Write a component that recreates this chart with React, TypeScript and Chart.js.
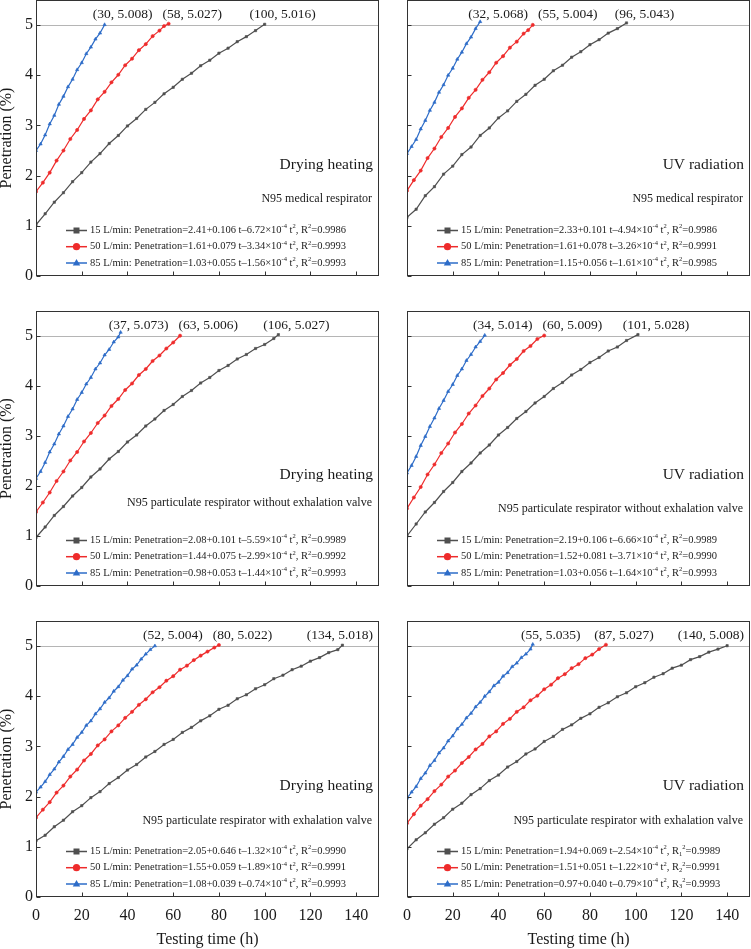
import React, { useEffect, useRef } from "react";
import { Chart, registerables } from "chart.js";

Chart.register(...registerables);

const SERIF = '"Liberation Serif", "Times New Roman", Times, serif';
const TXT = "#1a1a1a";
const C_GRAY = "#4f4f4f";
const C_RED = "#ee2b2b";
const C_BLUE = "#2d6cc8";

const X_TICKS = [0, 20, 40, 60, 80, 100, 120, 140];
const Y_TICKS = [0, 1, 2, 3, 4, 5];
const X_MAX = 150;
const Y_MAX = 5.5;
const LIMIT = 5;
const FLOWS = ["15 L/min", "50 L/min", "85 L/min"];

// ---------- Panel 1: Drying heating, N95 medical respirator ----------
const P1_BLUE_T = [0, 2, 4, 6, 8, 10, 12, 14, 16, 18, 20, 22, 24, 26, 28, 30];
const P1_BLUE_V = [2.50, 2.63, 2.81, 3.03, 3.20, 3.42, 3.58, 3.77, 3.92, 4.11, 4.25, 4.43, 4.56, 4.72, 4.84, 5.008];
const P1_RED_T = [0, 3, 6, 9, 12, 15, 18, 21, 24, 27, 30, 33, 36, 39, 42, 45, 48, 51, 54, 56, 58];
const P1_RED_V = [1.68, 1.86, 2.06, 2.30, 2.50, 2.73, 2.91, 3.13, 3.30, 3.52, 3.67, 3.86, 4.01, 4.20, 4.33, 4.50, 4.62, 4.78, 4.89, 4.98, 5.027];
const P1_GRAY_T = [0, 4, 8, 12, 16, 20, 24, 28, 32, 36, 40, 44, 48, 52, 56, 60, 64, 68, 72, 76, 80, 84, 88, 92, 96, 100];
const P1_GRAY_V = [1.02, 1.24, 1.47, 1.66, 1.88, 2.06, 2.27, 2.44, 2.64, 2.80, 2.99, 3.14, 3.32, 3.46, 3.63, 3.76, 3.92, 4.04, 4.19, 4.30, 4.44, 4.54, 4.67, 4.77, 4.89, 5.016];
const P1_EQ = [["2.41", "0.106", "6.72", "0.9986"], ["1.61", "0.079", "3.34", "0.9993"], ["1.03", "0.055", "1.56", "0.9993"]];

// ---------- Panel 2: UV radiation, N95 medical respirator ----------
const P2_BLUE_T = [0, 2, 4, 6, 8, 10, 12, 14, 16, 18, 20, 22, 24, 26, 28, 30, 32];
const P2_BLUE_V = [2.44, 2.58, 2.72, 2.93, 3.10, 3.30, 3.46, 3.66, 3.81, 4.00, 4.14, 4.32, 4.46, 4.63, 4.76, 4.93, 5.068];
const P2_RED_T = [0, 3, 6, 9, 12, 15, 18, 21, 24, 27, 30, 33, 36, 39, 42, 45, 48, 51, 53, 55];
const P2_RED_V = [1.70, 1.91, 2.10, 2.35, 2.54, 2.77, 2.95, 3.17, 3.34, 3.55, 3.71, 3.91, 4.06, 4.25, 4.38, 4.55, 4.67, 4.83, 4.90, 5.004];
const P2_GRAY_T = [0, 4, 8, 12, 16, 20, 24, 28, 32, 36, 40, 44, 48, 52, 56, 60, 64, 68, 72, 76, 80, 84, 88, 92, 96];
const P2_GRAY_V = [1.17, 1.33, 1.60, 1.78, 2.03, 2.19, 2.42, 2.57, 2.80, 2.95, 3.15, 3.29, 3.48, 3.62, 3.80, 3.92, 4.09, 4.20, 4.36, 4.47, 4.61, 4.71, 4.84, 4.93, 5.043];
const P2_EQ = [["2.33", "0.101", "4.94", "0.9986"], ["1.61", "0.078", "3.26", "0.9991"], ["1.15", "0.056", "1.61", "0.9985"]];

// ---------- Panel 3: Drying heating, without exhalation valve ----------
const P3_BLUE_T = [0, 2, 4, 6, 8, 10, 12, 14, 16, 18, 20, 22, 24, 26, 28, 30, 32, 34, 36, 37];
const P3_BLUE_V = [2.15, 2.29, 2.47, 2.68, 2.84, 3.04, 3.20, 3.39, 3.54, 3.73, 3.87, 4.04, 4.17, 4.34, 4.46, 4.62, 4.73, 4.88, 4.98, 5.073];
const P3_RED_T = [0, 3, 6, 9, 12, 15, 18, 21, 24, 27, 30, 33, 36, 39, 42, 45, 48, 51, 54, 57, 60, 63];
const P3_RED_V = [1.48, 1.67, 1.87, 2.10, 2.29, 2.51, 2.68, 2.89, 3.06, 3.26, 3.41, 3.60, 3.74, 3.92, 4.05, 4.22, 4.34, 4.50, 4.61, 4.75, 4.87, 5.006];
const P3_GRAY_T = [0, 4, 8, 12, 16, 20, 24, 28, 32, 36, 40, 44, 48, 52, 56, 60, 64, 68, 72, 76, 80, 84, 88, 92, 96, 100, 104, 106];
const P3_GRAY_V = [0.97, 1.18, 1.41, 1.59, 1.80, 1.97, 2.18, 2.34, 2.54, 2.69, 2.88, 3.02, 3.20, 3.34, 3.51, 3.63, 3.79, 3.91, 4.06, 4.17, 4.31, 4.41, 4.54, 4.63, 4.75, 4.83, 4.95, 5.027];
const P3_EQ = [["2.08", "0.101", "5.59", "0.9989"], ["1.44", "0.075", "2.99", "0.9992"], ["0.98", "0.053", "1.44", "0.9993"]];

// ---------- Panel 4: UV radiation, without exhalation valve ----------
const P4_BLUE_T = [0, 2, 4, 6, 8, 10, 12, 14, 16, 18, 20, 22, 24, 26, 28, 30, 32, 34];
const P4_BLUE_V = [2.26, 2.41, 2.59, 2.81, 2.99, 3.19, 3.36, 3.55, 3.71, 3.89, 4.03, 4.21, 4.34, 4.51, 4.63, 4.78, 4.89, 5.014];
const P4_RED_T = [0, 3, 6, 9, 12, 15, 18, 21, 24, 27, 30, 33, 36, 39, 42, 45, 48, 51, 54, 57, 60];
const P4_RED_V = [1.55, 1.77, 1.98, 2.23, 2.43, 2.66, 2.85, 3.07, 3.24, 3.45, 3.61, 3.80, 3.95, 4.13, 4.26, 4.42, 4.54, 4.70, 4.80, 4.94, 5.009];
const P4_GRAY_T = [0, 4, 8, 12, 16, 20, 24, 28, 32, 36, 40, 44, 48, 52, 56, 60, 64, 68, 72, 76, 80, 84, 88, 92, 96, 101];
const P4_GRAY_V = [1.00, 1.24, 1.48, 1.67, 1.89, 2.07, 2.29, 2.46, 2.66, 2.82, 3.02, 3.17, 3.35, 3.49, 3.66, 3.79, 3.95, 4.07, 4.22, 4.33, 4.47, 4.57, 4.70, 4.78, 4.91, 5.028];
const P4_EQ = [["2.19", "0.106", "6.66", "0.9989"], ["1.52", "0.081", "3.71", "0.9990"], ["1.03", "0.056", "1.64", "0.9993"]];

// ---------- Panel 5: Drying heating, with exhalation valve ----------
const P5_BLUE_T = [0, 2, 4, 6, 8, 10, 12, 14, 16, 18, 20, 22, 24, 26, 28, 30, 32, 34, 36, 38, 40, 42, 44, 46, 48, 50, 52];
const P5_BLUE_V = [2.09, 2.19, 2.30, 2.44, 2.55, 2.69, 2.80, 2.94, 3.04, 3.18, 3.28, 3.42, 3.51, 3.65, 3.75, 3.88, 3.97, 4.10, 4.19, 4.32, 4.41, 4.54, 4.62, 4.74, 4.84, 4.93, 5.004];
const P5_RED_T = [0, 3, 6, 9, 12, 15, 18, 21, 24, 27, 30, 33, 36, 39, 42, 45, 48, 51, 54, 57, 60, 63, 66, 69, 72, 75, 78, 80];
const P5_RED_V = [1.58, 1.74, 1.89, 2.08, 2.22, 2.40, 2.54, 2.72, 2.85, 3.02, 3.14, 3.30, 3.42, 3.57, 3.69, 3.83, 3.94, 4.08, 4.18, 4.31, 4.40, 4.53, 4.61, 4.72, 4.81, 4.89, 4.97, 5.022];
const P5_GRAY_T = [0, 4, 8, 12, 16, 20, 24, 28, 32, 36, 40, 44, 48, 52, 56, 60, 64, 68, 72, 76, 80, 84, 88, 92, 96, 100, 104, 108, 112, 116, 120, 124, 128, 132, 134];
const P5_GRAY_V = [1.12, 1.23, 1.40, 1.53, 1.70, 1.82, 1.98, 2.10, 2.26, 2.38, 2.53, 2.64, 2.79, 2.90, 3.04, 3.14, 3.28, 3.38, 3.51, 3.61, 3.74, 3.82, 3.95, 4.03, 4.15, 4.23, 4.35, 4.42, 4.53, 4.60, 4.70, 4.77, 4.87, 4.93, 5.018];
const P5_EQ = [["2.05", "0.646", "1.32", "0.9990"], ["1.55", "0.059", "1.89", "0.9991"], ["1.08", "0.039", "0.74", "0.9993"]];

// ---------- Panel 6: UV radiation, with exhalation valve ----------
const P6_BLUE_T = [0, 2, 4, 6, 8, 10, 12, 14, 16, 18, 20, 22, 24, 26, 28, 30, 32, 34, 36, 38, 40, 42, 44, 46, 48, 50, 52, 54, 55];
const P6_BLUE_V = [1.97, 2.09, 2.20, 2.36, 2.47, 2.62, 2.72, 2.87, 2.97, 3.11, 3.21, 3.35, 3.44, 3.57, 3.66, 3.79, 3.88, 4.00, 4.09, 4.21, 4.28, 4.40, 4.47, 4.59, 4.66, 4.77, 4.84, 4.94, 5.035];
const P6_RED_T = [0, 3, 6, 9, 12, 15, 18, 21, 24, 27, 30, 33, 36, 39, 42, 45, 48, 51, 54, 57, 60, 63, 66, 69, 72, 75, 78, 81, 84, 87];
const P6_RED_V = [1.47, 1.65, 1.82, 1.95, 2.11, 2.24, 2.40, 2.52, 2.67, 2.79, 2.94, 3.05, 3.20, 3.30, 3.45, 3.55, 3.69, 3.78, 3.92, 4.01, 4.14, 4.23, 4.36, 4.44, 4.56, 4.64, 4.76, 4.83, 4.94, 5.027];
const P6_GRAY_T = [0, 4, 8, 12, 16, 20, 24, 28, 32, 36, 40, 44, 48, 52, 56, 60, 64, 68, 72, 76, 80, 84, 88, 92, 96, 100, 104, 108, 112, 116, 120, 124, 128, 132, 136, 140];
const P6_GRAY_V = [0.96, 1.14, 1.28, 1.45, 1.58, 1.75, 1.87, 2.04, 2.16, 2.32, 2.43, 2.59, 2.70, 2.85, 2.95, 3.10, 3.20, 3.34, 3.43, 3.56, 3.65, 3.78, 3.87, 3.99, 4.07, 4.19, 4.27, 4.38, 4.45, 4.56, 4.62, 4.73, 4.79, 4.88, 4.94, 5.008];
const P6_EQ = [["1.94", "0.069", "2.54", "0.9989"], ["1.51", "0.051", "1.22", "0.9991"], ["0.97", "0.040", "0.79", "0.9993"]];

type Series = { t: number[]; v: number[] };
type PanelDef = {
  col: number;
  row: number;
  method: string;
  mask: string;
  maskLift: number;
  gray: Series;
  red: Series;
  blue: Series;
  eq: string[][];
  rSub: boolean;
};

const PANELS: PanelDef[] = [
  { col: 0, row: 0, method: "Drying heating", mask: "N95 medical respirator", maskLift: 77,
    gray: { t: P1_GRAY_T, v: P1_GRAY_V }, red: { t: P1_RED_T, v: P1_RED_V }, blue: { t: P1_BLUE_T, v: P1_BLUE_V }, eq: P1_EQ, rSub: false },
  { col: 1, row: 0, method: "UV radiation", mask: "N95 medical respirator", maskLift: 77,
    gray: { t: P2_GRAY_T, v: P2_GRAY_V }, red: { t: P2_RED_T, v: P2_RED_V }, blue: { t: P2_BLUE_T, v: P2_BLUE_V }, eq: P2_EQ, rSub: false },
  { col: 0, row: 1, method: "Drying heating", mask: "N95 particulate respirator without exhalation valve", maskLift: 83,
    gray: { t: P3_GRAY_T, v: P3_GRAY_V }, red: { t: P3_RED_T, v: P3_RED_V }, blue: { t: P3_BLUE_T, v: P3_BLUE_V }, eq: P3_EQ, rSub: false },
  { col: 1, row: 1, method: "UV radiation", mask: "N95 particulate respirator without exhalation valve", maskLift: 77,
    gray: { t: P4_GRAY_T, v: P4_GRAY_V }, red: { t: P4_RED_T, v: P4_RED_V }, blue: { t: P4_BLUE_T, v: P4_BLUE_V }, eq: P4_EQ, rSub: false },
  { col: 0, row: 2, method: "Drying heating", mask: "N95 particulate respirator with exhalation valve", maskLift: 76,
    gray: { t: P5_GRAY_T, v: P5_GRAY_V }, red: { t: P5_RED_T, v: P5_RED_V }, blue: { t: P5_BLUE_T, v: P5_BLUE_V }, eq: P5_EQ, rSub: false },
  { col: 1, row: 2, method: "UV radiation", mask: "N95 particulate respirator with exhalation valve", maskLift: 76,
    gray: { t: P6_GRAY_T, v: P6_GRAY_V }, red: { t: P6_RED_T, v: P6_RED_V }, blue: { t: P6_BLUE_T, v: P6_BLUE_V }, eq: P6_EQ, rSub: true },
];

const COLS = [
  { left: 0, w: 380, yw: 36 },
  { left: 380, w: 371, yw: 27 },
];
const ROWS = [
  { top: 0, h: 300, pt: 0, xh: 24 },
  { top: 300, h: 320, pt: 11, xh: 34 },
  { top: 620, h: 329, pt: 1, xh: 52 },
];

type Seg = { s: string; k?: "sup" | "sub" };

function drawRich(ctx: CanvasRenderingContext2D, segs: Seg[], x: number, y: number, size: number) {
  let cx = x;
  for (const seg of segs) {
    if (seg.k) {
      ctx.font = `${(size * 0.62).toFixed(2)}px ${SERIF}`;
      const dy = seg.k === "sup" ? -size * 0.36 : size * 0.24;
      ctx.fillText(seg.s, cx, y + dy);
      cx += ctx.measureText(seg.s).width;
    } else {
      ctx.font = `${size}px ${SERIF}`;
      ctx.fillText(seg.s, cx, y);
      cx += ctx.measureText(seg.s).width;
    }
  }
}

function drawMarker(ctx: CanvasRenderingContext2D, kind: string, x: number, y: number, r: number) {
  ctx.beginPath();
  if (kind === "rect") {
    ctx.rect(x - r, y - r, 2 * r, 2 * r);
  } else if (kind === "circle") {
    ctx.arc(x, y, r, 0, Math.PI * 2);
  } else {
    ctx.moveTo(x, y - r * 1.15);
    ctx.lineTo(x + r * 1.1, y + r * 0.75);
    ctx.lineTo(x - r * 1.1, y + r * 0.75);
    ctx.closePath();
  }
  ctx.fill();
}

function makeDeco(p: PanelDef) {
  return {
    id: "deco",
    beforeDatasetsDraw(chart: any) {
      const { ctx, chartArea: a } = chart;
      const ys = chart.scales.y;
      const py = Math.round(ys.getPixelForValue(LIMIT)) + 0.5;
      ctx.save();
      ctx.strokeStyle = "#b5b5b5";
      ctx.lineWidth = 1;
      ctx.beginPath();
      ctx.moveTo(a.left, py);
      ctx.lineTo(a.right, py);
      ctx.stroke();
      ctx.restore();
    },
    afterDraw(chart: any) {
      const { ctx, chartArea: a } = chart;
      const xs = chart.scales.x;
      const ys = chart.scales.y;
      ctx.save();
      // frame
      const L = Math.round(a.left) + 0.5;
      const R = Math.round(a.right) - 0.5;
      const T = Math.round(a.top) + 0.5;
      const B = Math.round(a.bottom) - 0.5;
      ctx.strokeStyle = "#333";
      ctx.lineWidth = 1;
      ctx.strokeRect(L, T, R - L, B - T);
      // inward ticks
      ctx.beginPath();
      for (const v of X_TICKS) {
        const px = Math.round(xs.getPixelForValue(v)) + 0.5;
        ctx.moveTo(px, B);
        ctx.lineTo(px, B - 4);
      }
      for (const v of Y_TICKS) {
        const py = Math.round(ys.getPixelForValue(v)) + 0.5;
        ctx.moveTo(L, py);
        ctx.lineTo(L + 4, py);
      }
      ctx.stroke();

      // end-point labels
      ctx.fillStyle = TXT;
      ctx.textBaseline = "middle";
      ctx.textAlign = "left";
      ctx.font = `13.5px ${SERIF}`;
      const ends = [p.blue, p.red, p.gray]
        .map((s) => ({ t: s.t[s.t.length - 1], v: s.v[s.v.length - 1] }))
        .sort((m, n) => m.t - n.t);
      let prevRight = -Infinity;
      for (const e of ends) {
        const label = `(${e.t}, ${e.v.toFixed(3)})`;
        const w = ctx.measureText(label).width;
        let left = xs.getPixelForValue(e.t) + 18 - w / 2;
        if (left < prevRight + 10) left = prevRight + 10;
        if (left + w > a.right - 6) left = a.right - 6 - w;
        ctx.fillText(label, left, a.top + 14.5);
        prevRight = left + w;
      }

      // method and mask text
      ctx.textAlign = "right";
      ctx.font = `15.5px ${SERIF}`;
      ctx.fillText(p.method, a.right - 6, a.bottom - 111);
      ctx.font = `12px ${SERIF}`;
      ctx.fillText(p.mask, a.right - 7, a.bottom - p.maskLift);

      // legend with fitted equations
      ctx.textAlign = "left";
      const rowsY = [a.bottom - 45.5, a.bottom - 29.3, a.bottom - 13];
      const sty = [
        { c: C_GRAY, m: "rect", r: 3 },
        { c: C_RED, m: "circle", r: 3.6 },
        { c: C_BLUE, m: "triangle", r: 3.4 },
      ];
      for (let i = 0; i < 3; i++) {
        const y = rowsY[i];
        const st = sty[i];
        ctx.strokeStyle = st.c;
        ctx.fillStyle = st.c;
        ctx.lineWidth = 1.5;
        ctx.beginPath();
        ctx.moveTo(a.left + 30, y);
        ctx.lineTo(a.left + 51, y);
        ctx.stroke();
        drawMarker(ctx, st.m, a.left + 40.5, y, st.r);
        const [c0, c1, c2, r2] = p.eq[i];
        const segs: Seg[] = [
          { s: `${FLOWS[i]}: Penetration=${c0}+${c1} t\u2013${c2}\u00d710` },
          { s: "-4", k: "sup" },
          { s: " t" },
          { s: "2", k: "sup" },
          { s: ", R" },
        ];
        if (p.rSub) segs.push({ s: String(i + 1), k: "sub" });
        segs.push({ s: "2", k: "sup" });
        segs.push({ s: `=${r2}` });
        ctx.fillStyle = "#222";
        drawRich(ctx, segs, a.left + 54, y, 10.5);
      }
      ctx.restore();
    },
  };
}

function PanelChart({ p }: { p: PanelDef }) {
  const ref = useRef<HTMLCanvasElement>(null);
  const col = COLS[p.col];
  const row = ROWS[p.row];
  useEffect(() => {
    const showX = p.row === 2;
    const showY = p.col === 0;
    const mk = (s: Series, c: string, style: string, r: number) => ({
      data: s.t.map((x, i) => ({ x, y: s.v[i] })),
      borderColor: c,
      backgroundColor: c,
      borderWidth: 1.2,
      pointStyle: style,
      pointRadius: r,
      pointBorderWidth: 0.6,
      tension: 0,
      fill: false,
    });
    const chart = new Chart(ref.current as HTMLCanvasElement, {
      type: "line",
      data: {
        datasets: [
          mk(p.gray, C_GRAY, "rect", 1.6),
          mk(p.red, C_RED, "circle", 1.6),
          mk(p.blue, C_BLUE, "triangle", 1.9),
        ] as any,
      },
      options: {
        responsive: false,
        animation: false,
        devicePixelRatio: 1,
        layout: { autoPadding: false, padding: { left: 0, right: 1, top: row.pt, bottom: 0 } },
        plugins: { legend: { display: false }, tooltip: { enabled: false } },
        scales: {
          x: {
            type: "linear",
            min: 0,
            max: X_MAX,
            grid: { display: false, drawTicks: false },
            border: { display: false },
            afterBuildTicks: (s: any) => {
              s.ticks = X_TICKS.map((value) => ({ value }));
            },
            ticks: {
              display: showX,
              padding: 9,
              maxRotation: 0,
              autoSkip: false,
              color: TXT,
              font: { family: SERIF, size: 16 },
            },
            title: {
              display: showX,
              text: "Testing time (h)",
              color: TXT,
              font: { family: SERIF, size: 16, lineHeight: 1.2 },
              padding: { top: 0, bottom: 0 },
            },
            afterFit: (s: any) => {
              s.height = row.xh;
              s.paddingLeft = 0;
              s.paddingRight = 0;
              s.paddingTop = 0;
              s.paddingBottom = 0;
            },
          },
          y: {
            type: "linear",
            min: 0,
            max: Y_MAX,
            grid: { display: false, drawTicks: false },
            border: { display: false },
            afterBuildTicks: (s: any) => {
              s.ticks = Y_TICKS.map((value) => ({ value }));
            },
            ticks: {
              display: showY,
              padding: 3,
              color: TXT,
              font: { family: SERIF, size: 16 },
            },
            title: {
              display: showY,
              text: "Penetration (%)",
              color: TXT,
              font: { family: SERIF, size: 16, lineHeight: 0.9 },
              padding: { top: 0, bottom: 0 },
            },
            afterFit: (s: any) => {
              s.width = col.yw;
              s.paddingLeft = 0;
              s.paddingRight = 0;
              s.paddingTop = 0;
              s.paddingBottom = 0;
            },
          },
        },
      } as any,
      plugins: [makeDeco(p) as any],
    });
    return () => chart.destroy();
  }, []);
  return (
    <canvas
      ref={ref}
      width={col.w}
      height={row.h}
      style={{ position: "absolute", left: col.left, top: row.top, width: col.w, height: row.h }}
    />
  );
}

export default function App() {
  return (
    <div style={{ position: "fixed", left: 0, top: 0, width: 751, height: 949, background: "#fff", overflow: "hidden" }}>
      {PANELS.map((p, i) => (
        <PanelChart key={i} p={p} />
      ))}
    </div>
  );
}
